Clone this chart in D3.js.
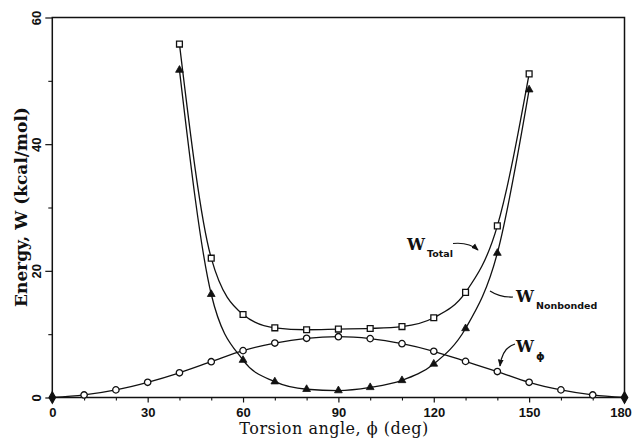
<!DOCTYPE html>
<html>
<head>
<meta charset="utf-8">
<script src="https://cdn.jsdelivr.net/npm/d3@7"></script>
<style>
  html, body { margin: 0; padding: 0; background: #fff; }
  svg { display: block; }
</style>
</head>
<body>
<svg id="chart" width="633" height="440"></svg>
<script>
// ---- data ----
const anglesTotal = [40, 50, 60, 70, 80, 90, 100, 110, 120, 130, 140, 150];
const wTotal      = [55.8, 22.0, 13.1, 11.0, 10.7, 10.8, 10.9, 11.2, 12.6, 16.6, 27.1, 51.1];
const wNonbonded  = [51.7, 16.3, 5.9, 2.5, 1.3, 1.1, 1.6, 2.7, 5.3, 10.9, 22.8, 48.6];
const anglesPhi   = [0, 10, 20, 30, 40, 50, 60, 70, 80, 90, 100, 110, 120, 130, 140, 150, 160, 170, 180];
const wPhi        = [0, 0.4, 1.2, 2.4, 3.9, 5.65, 7.4, 8.6, 9.35, 9.6, 9.3, 8.5, 7.3, 5.7, 4.1, 2.4, 1.2, 0.4, 0];
const xMajorTicks = [0, 30, 60, 90, 120, 150, 180];
const xMinorTicks = [10, 20, 40, 50, 70, 80, 100, 110, 130, 140, 160, 170];
const yMajorTicks = [0, 20, 40, 60];
const yMinorTicks = [10, 30, 50];
const xTitle = "Torsion angle, \u03D5 (deg)";
const yTitle = "Energy, W (kcal/mol)";

// ---- layout ----
const svg = d3.select("#chart");
const x = d3.scaleLinear().domain([0, 180]).range([52.3, 624.5]);
const y = d3.scaleLinear().domain([0, 60]).range([397.5, 17.5]);
const ink = "#111";

// frame
svg.append("rect")
  .attr("x", x(0)).attr("y", y(60))
  .attr("width", x(180) - x(0)).attr("height", y(0) - y(60))
  .attr("fill", "none").attr("stroke", ink).attr("stroke-width", 1.5);

// bottom axis
const xAxis = svg.append("g").attr("transform", `translate(0,${y(0)})`)
  .call(d3.axisBottom(x).tickValues(xMajorTicks).tickSize(5).tickPadding(5).tickFormat(d3.format("d")));
xAxis.select(".domain").remove();
xAxis.selectAll("line").attr("stroke", ink).attr("stroke-width", 1.2);
xAxis.selectAll("text").attr("font-family", "Liberation Sans, Arial, sans-serif")
  .attr("font-weight", "bold").attr("font-size", 13).attr("fill", ink)
  .attr("dx", d => d === 180 ? -4 : 0);
const xAxisMinor = svg.append("g").attr("transform", `translate(0,${y(0)})`)
  .call(d3.axisBottom(x).tickValues(xMinorTicks).tickSize(3).tickFormat(""));
xAxisMinor.select(".domain").remove();
xAxisMinor.selectAll("line").attr("stroke", ink).attr("stroke-width", 1.1);

// left axis
const yAxis = svg.append("g").attr("transform", `translate(${x(0)},0)`)
  .call(d3.axisLeft(y).tickValues(yMajorTicks).tickSize(7).tickPadding(3).tickFormat(d3.format("d")));
yAxis.select(".domain").remove();
yAxis.selectAll("line").attr("stroke", ink).attr("stroke-width", 1.2);
yAxis.selectAll("text")
  .attr("font-family", "Liberation Sans, Arial, sans-serif")
  .attr("font-weight", "bold").attr("font-size", 13).attr("fill", ink)
  .attr("text-anchor", "middle").attr("dy", null).attr("x", null)
  .attr("transform", "translate(-11,0) rotate(-90)");
const yAxisMinor = svg.append("g").attr("transform", `translate(${x(0)},0)`)
  .call(d3.axisLeft(y).tickValues(yMinorTicks).tickSize(4).tickFormat(""));
yAxisMinor.select(".domain").remove();
yAxisMinor.selectAll("line").attr("stroke", ink).attr("stroke-width", 1.1);

// titles
svg.append("text")
  .attr("x", 334).attr("y", 434)
  .attr("text-anchor", "middle")
  .attr("font-family", "DejaVu Serif, serif")
  .attr("font-size", 16).attr("letter-spacing", 0.5)
  .attr("fill", ink).text(xTitle);
svg.append("text")
  .attr("transform", "translate(27,207) rotate(-90)")
  .attr("text-anchor", "middle")
  .attr("font-family", "DejaVu Serif, serif")
  .attr("font-weight", "bold")
  .attr("font-size", 17)
  .attr("fill", ink).text(yTitle);

// curves
const line = d3.line().x(d => x(d[0])).y(d => y(d[1])).curve(d3.curveMonotoneX);
const totalPts = anglesTotal.map((a, i) => [a, wTotal[i]]);
const nonbPts = anglesTotal.map((a, i) => [a, wNonbonded[i]]);
const phiPts = anglesPhi.map((a, i) => [a, wPhi[i]]);
[totalPts, nonbPts, phiPts].forEach(pts => {
  svg.append("path").attr("d", line(pts))
    .attr("fill", "none").attr("stroke", ink).attr("stroke-width", 1.3);
});

// markers
const sq = d3.symbol().type(d3.symbolSquare).size(34);
const tri = d3.symbol().type(d3.symbolTriangle).size(26);
const circ = d3.symbol().type(d3.symbolCircle).size(32);
const dia = d3.symbol().type(d3.symbolDiamond).size(36);

svg.append("g").selectAll("path").data(totalPts).join("path")
  .attr("d", sq).attr("transform", d => `translate(${x(d[0])},${y(d[1])})`)
  .attr("fill", "#fff").attr("stroke", ink).attr("stroke-width", 1.3);
svg.append("g").selectAll("path").data(nonbPts).join("path")
  .attr("d", tri).attr("transform", d => `translate(${x(d[0])},${y(d[1])})`)
  .attr("fill", ink).attr("stroke", ink).attr("stroke-width", 0.8);
svg.append("g").selectAll("path").data(phiPts).join("path")
  .attr("d", (d, i) => (i === 0 || i === phiPts.length - 1) ? dia() : circ())
  .attr("transform", d => `translate(${x(d[0])},${y(d[1])})`)
  .attr("fill", (d, i) => (i === 0 || i === phiPts.length - 1) ? ink : "#fff")
  .attr("stroke", ink).attr("stroke-width", 1.3);

// annotations
svg.append("defs").append("marker")
  .attr("id", "ah").attr("viewBox", "0 0 10 10").attr("refX", 9).attr("refY", 5)
  .attr("markerWidth", 6).attr("markerHeight", 6).attr("orient", "auto-start-reverse")
  .append("path").attr("d", "M0,1 L10,5 L0,9 Z").attr("fill", ink);

function label(xp, yp, sub, subSize, subDx, subDy) {
  const t = svg.append("text").attr("x", xp).attr("y", yp)
    .attr("font-family", "DejaVu Serif, serif").attr("font-weight", "bold")
    .attr("font-size", 16).attr("fill", ink);
  t.append("tspan").text("W");
  t.append("tspan").attr("dx", subDx).attr("dy", subDy)
    .attr("font-size", subSize).attr("font-family", "DejaVu Sans, sans-serif").text(sub);
}
label(407, 250, "Total", 9.5, 2, 7);
label(516, 301.5, "Nonbonded", 9.5, 2, 7);
label(516, 351.5, "\u03D5", 11, 2, 8);

svg.append("path").attr("d", "M453,243.5 Q469,242 478,250")
  .attr("fill", "none").attr("stroke", ink).attr("stroke-width", 1.2).attr("marker-end", "url(#ah)");
svg.append("path").attr("d", "M513,297 Q500,297.5 490,291")
  .attr("fill", "none").attr("stroke", ink).attr("stroke-width", 1.2);
svg.append("path").attr("d", "M515,344 Q502,348 500,366")
  .attr("fill", "none").attr("stroke", ink).attr("stroke-width", 1.2).attr("marker-end", "url(#ah)");
</script>
</body>
</html>
